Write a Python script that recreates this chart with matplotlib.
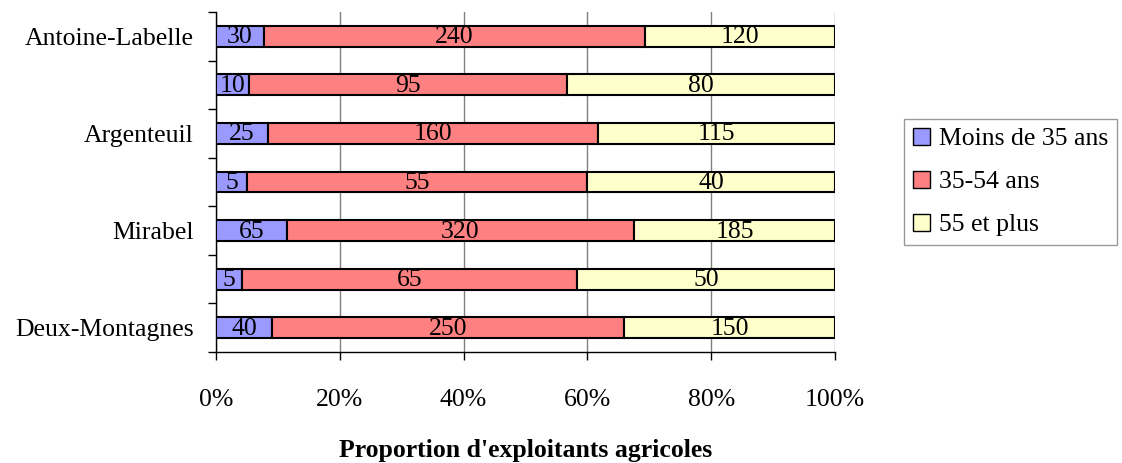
import numpy as np
import matplotlib.pyplot as plt

plt.rcParams['font.family'] = ['Liberation Serif', 'DejaVu Serif']

# categories from bottom to top (only every other one is labelled in the original)
regions = ['Deux-Montagnes', '', 'Mirabel', '', 'Argenteuil', '', 'Antoine-Labelle']
moins35 = [40, 5, 65, 5, 25, 10, 30]
age35_54 = [250, 65, 320, 55, 160, 95, 240]
plus55 = [150, 50, 185, 40, 115, 80, 120]
series_names = ['Moins de 35 ans', '35-54 ans', '55 et plus']
colors = ['#9999FF', '#FF8080', '#FFFFCC']
xticks = [0, 0.2, 0.4, 0.6, 0.8, 1.0]
xticklabels = ['0%', '20%', '40%', '60%', '80%', '100%']

data = np.array([moins35, age35_54, plus55], dtype=float)
tot = data.sum(axis=0)
prop = data / tot

fs = 18.5
fig = plt.figure(figsize=(11.22, 4.63), dpi=100)
ax = fig.add_axes([216/1122, 1-352/463, (835-216)/1122, 340/463])

y = np.arange(len(regions))
left = np.zeros(len(regions))
for i in range(3):
    bars = ax.barh(y, prop[i], left=left, height=0.43, color=colors[i],
                   edgecolor='black', linewidth=1.5, label=series_names[i], zorder=3)
    for j, b in enumerate(bars):
        ax.text(left[j] + prop[i][j]/2, y[j] - 0.02, '%d' % data[i][j],
                ha='center', va='center', fontsize=fs, zorder=4)
    left += prop[i]

ax.set_xlim(0, 1)
ax.set_ylim(-0.5, len(regions) - 0.5)
ax.set_xticks(xticks)
ax.set_xticklabels(xticklabels, fontsize=fs)
ax.tick_params(axis='x', length=6, width=1, pad=20.5, direction='out')
ax.set_yticks(y)
ax.set_yticklabels(regions, fontsize=fs)
ax.set_yticks(np.arange(len(regions) + 1) - 0.5, minor=True)
ax.tick_params(axis='y', which='major', length=0, pad=16)
ax.tick_params(axis='y', which='minor', length=6, width=1, direction='out')
ax.grid(axis='x', color='#808080', linewidth=1, zorder=0)

for s in ['top', 'right']:
    ax.spines[s].set_visible(False)
ax.spines['left'].set_linewidth(1)
ax.spines['bottom'].set_linewidth(1)

ax.set_xlabel("Proportion d'exploitants agricoles", fontsize=fs, fontweight='bold', labelpad=20)

leg = fig.legend(loc='center left', bbox_to_anchor=(904/1122, 1-182/463), fontsize=fs,
                 frameon=True, fancybox=False, edgecolor='#808080', handlelength=0.65,
                 handleheight=0.65, handletextpad=0.35, labelspacing=0.8, borderpad=0.35,
                 borderaxespad=0)
leg.get_frame().set_linewidth(1)
for h in leg.legend_handles:
    h.set_linewidth(1)

fig.savefig('out.png', dpi=100)
